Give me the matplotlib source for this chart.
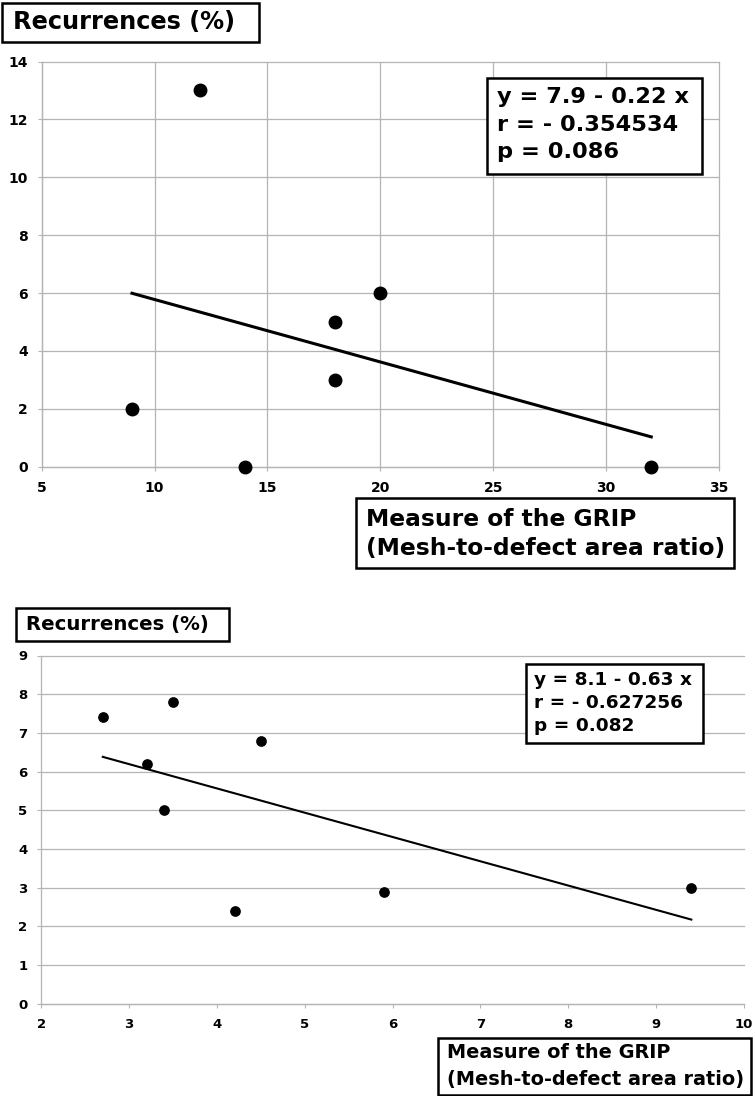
"""
Recurrences vs. GRIP (mesh-to-defect area ratio): two scatter plots with linear fits
"""

import numpy as np
import matplotlib
matplotlib.use('Agg')
import matplotlib.pyplot as plt
import matplotlib.patches as patches

plt.rcParams['font.family'] = ['DejaVu Sans']
plt.rcParams['font.weight'] = 'bold'

# ---- data, top panel ----
grip_top = [9, 12, 14, 18, 18, 20, 32]
rec_top = [2, 13, 0, 5, 3, 6, 0]
stats_top = ["y = 7.9 - 0.22 x", "r = - 0.354534", "p = 0.086"]

# ---- data, bottom panel ----
grip_bot = [2.7, 3.2, 3.4, 3.5, 4.2, 4.5, 5.9, 9.4]
rec_bot = [7.4, 6.2, 5.0, 7.8, 2.4, 6.8, 2.9, 3.0]
stats_bot = ["y = 8.1 - 0.63 x", "r = - 0.627256", "p = 0.082"]

ylabel_text = "Recurrences (%)"
xlabel_lines = ["Measure of the GRIP", "(Mesh-to-defect area ratio)"]

W, H = 755, 1096
GRID = '#b4b4b4'


def px_box(fig, x0, y0, x1, y1):
    """画黑色边框（像素坐标，原点左上）"""
    rect = patches.Rectangle((x0 / W, 1 - y1 / H), (x1 - x0) / W, (y1 - y0) / H,
                             transform=fig.transFigure, facecolor='white',
                             edgecolor='black', linewidth=1.8, zorder=5)
    fig.add_artist(rect)


def px_text(fig, x, y, s, size):
    fig.text(x / W, 1 - y / H, s, fontsize=size, fontweight='bold',
             ha='left', va='center', zorder=6)


def boxed_lines(fig, box, x_text, y_lines, lines, size):
    px_box(fig, *box)
    for y, s in zip(y_lines, lines):
        px_text(fig, x_text, y, s, size)


def style_axes(ax, tick_size):
    for side in ['top', 'right']:
        ax.spines[side].set_visible(False)
    for side in ['left', 'bottom']:
        ax.spines[side].set_color(GRID)
        ax.spines[side].set_linewidth(0.9)
    ax.tick_params(direction='out', length=3, width=0.8, color=GRID,
                   labelsize=tick_size, pad=7)
    for lab in ax.get_xticklabels() + ax.get_yticklabels():
        lab.set_fontweight('bold')
    # 边缘的网格线不要被裁掉一半
    for line in ax.get_xgridlines() + ax.get_ygridlines():
        line.set_clip_on(False)
    ax.set_axisbelow(True)


def scatter_fit(ax, x, y, ms, lw):
    """散点 + 最小二乘直线"""
    x = np.asarray(x, dtype=float)
    y = np.asarray(y, dtype=float)
    slope, icpt = np.polyfit(x, y, 1)
    xs = np.array([x.min(), x.max()])
    ax.plot(xs, icpt + slope * xs, color='black', linewidth=lw, zorder=3)
    ax.plot(x, y, 'o', color='black', markersize=ms, clip_on=False, zorder=4)


fig = plt.figure(figsize=(W / 100, H / 100), dpi=100)

# ---- top panel ----
ax1 = fig.add_axes([41.7 / W, 1 - 466.7 / H, (719 - 41.7) / W, (466.7 - 61.5) / H])
scatter_fit(ax1, grip_top, rec_top, ms=9, lw=2.2)
ax1.set_xlim(5, 35)
ax1.set_ylim(0, 14)
ax1.set_xticks(np.arange(5, 36, 5))
ax1.set_yticks(np.arange(0, 15, 2))
ax1.grid(True, color=GRID, linewidth=0.9)
style_axes(ax1, 10)

boxed_lines(fig, (2, 3, 259, 42), 13, [22.5], [ylabel_text], 17.3)
boxed_lines(fig, (487, 78, 702, 174), 497, [97, 125, 152], stats_top, 16.2)
boxed_lines(fig, (356, 498, 734, 568), 366, [520, 548], xlabel_lines, 16.8)

# ---- bottom panel ----
ax2 = fig.add_axes([41.3 / W, 1 - 1003.7 / H, (744 - 41.3) / W, (1003.7 - 655.5) / H])
scatter_fit(ax2, grip_bot, rec_bot, ms=6.7, lw=1.5)
ax2.set_xlim(2, 10)
ax2.set_ylim(0, 9)
ax2.set_xticks(np.arange(2, 11, 1))
ax2.set_yticks(np.arange(0, 10, 1))
ax2.grid(True, axis='y', color=GRID, linewidth=0.9)
style_axes(ax2, 9.5)

boxed_lines(fig, (16, 608, 229, 641), 26, [624.5], [ylabel_text], 14.2)
boxed_lines(fig, (526, 664, 703, 743), 534, [680, 703, 726], stats_bot, 13.3)
boxed_lines(fig, (438, 1038, 751, 1095), 447, [1053, 1080], xlabel_lines, 13.9)

fig.savefig('out.png', dpi=100)
